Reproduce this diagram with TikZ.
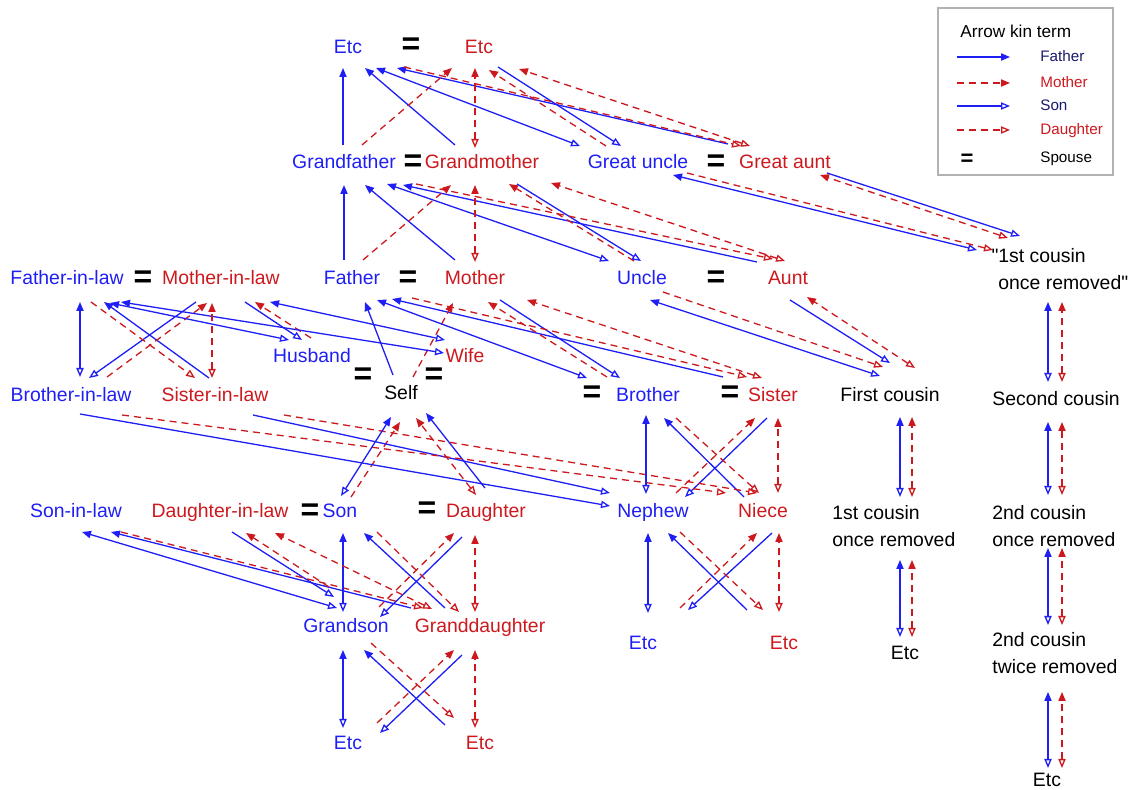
\documentclass[tikz,border=0pt]{standalone}
\usepackage{fontspec}
\setmainfont{Liberation Sans}
\newfontfamily\plainsans{Liberation Sans}
\usetikzlibrary{arrows.meta}
\definecolor{kinblue}{RGB}{30,30,245}
\definecolor{kinred}{RGB}{205,25,30}
\definecolor{kinnavy}{RGB}{25,25,105}

\begin{document}
\begin{tikzpicture}[x=0.5pt, y=-0.5pt,
  term/.style={font=\fontsize{9.7}{13.7}\selectfont, inner sep=0pt, text height=7pt, text depth=2pt},
  mterm/.style={font=\fontsize{9.7}{13.7}\selectfont, inner sep=0pt, align=left, anchor=north west},
  bl/.style={term, text=kinblue},
  rd/.style={term, text=kinred},
  bk/.style={term, text=black},
  eq/.style={font=\fontsize{16}{16}\selectfont\bfseries, inner sep=0pt},
  legtext/.style={font=\fontsize{7.6}{9}\selectfont, inner sep=0pt, text height=5.5pt, text depth=1.6pt, anchor=west},
  legbox/.style={draw=black!30, line width=.6pt},
  tipf/.tip={Triangle[length=4.5pt,width=3.6pt]},
  tipo/.tip={Triangle[open,length=4.5pt,width=3.6pt]},
  bline/.style={draw=kinblue, line width=.65pt},
  rline/.style={draw=kinred, line width=.65pt, dash pattern=on 3.5pt off 2.5pt},
  farr/.style={bline, -tipf},
  marr/.style={rline, -tipf},
  sarr/.style={bline, -tipo},
  darr/.style={rline, -tipo},
  fsarr/.style={bline, tipo-tipf},
  mdarr/.style={rline, tipo-tipf}
]
\useasboundingbox (0,0) rectangle (1136,790);

% generations
\node[bl] (etcA) at (348,49) {Etc};
\node[eq] (eq1) at (411,46) {=};
\node[rd] (etcB) at (479,49) {Etc};
\node[bl] (gfa) at (344,164) {Grandfather};
\node[eq] (eq2) at (413,163) {=};
\node[rd] (gmo) at (482,164) {Grandmother};
\node[bl] (gun) at (638,164) {Great uncle};
\node[eq] (eq3) at (716,163) {=};
\node[rd] (gau) at (785,164) {Great aunt};
\node[bl] (fil) at (67,280) {Father-in-law};
\node[eq] (eq4) at (143,279) {=};
\node[rd] (mil) at (221,280) {Mother-in-law};
\node[bl] (fat) at (352,280) {Father};
\node[eq] (eq5) at (408,279) {=};
\node[rd] (mot) at (475,280) {Mother};
\node[bl] (unc) at (642,280) {Uncle};
\node[eq] (eq6) at (716,279) {=};
\node[rd] (aun) at (788,280) {Aunt};
\node[mterm] (cor1) at (998,248) {\llap{\plainsans"}1st cousin\\once removed{\plainsans"}};
\node[bl] (hus) at (312,358) {Husband};
\node[rd] (wif) at (465,358) {Wife};
\node[eq] (eq7) at (363,376) {=};
\node[eq] (eq8) at (434,376) {=};
\node[bl] (bil) at (71,397) {Brother-in-law};
\node[rd] (sil) at (215,397) {Sister-in-law};
\node[bk] (self) at (401,395) {Self};
\node[eq] (eq9) at (592,394) {=};
\node[bl] (bro) at (648,397) {Brother};
\node[eq] (eq10) at (730,394) {=};
\node[rd] (sis) at (773,397) {Sister};
\node[bk] (fc) at (890,397) {First cousin};
\node[bk] (sc) at (1056,401) {Second cousin};
\node[bl] (sonil) at (76,513) {Son-in-law};
\node[rd] (dil) at (220,513) {Daughter-in-law};
\node[eq] (eq11) at (310,512) {=};
\node[bl] (son) at (340,513) {Son};
\node[eq] (eq12) at (427,510) {=};
\node[rd] (dau) at (486,513) {Daughter};
\node[bl] (nep) at (653,513) {Nephew};
\node[rd] (nie) at (763,513) {Niece};
\node[mterm] (fcr) at (832,505) {1st cousin\\once removed};
\node[mterm] (scr) at (992,505) {2nd cousin\\once removed};
\node[bl] (gso) at (346,628) {Grandson};
\node[rd] (gda) at (480,628) {Granddaughter};
\node[bl] (etcN) at (643,645) {Etc};
\node[rd] (etcI) at (784,645) {Etc};
\node[bk] (etcF) at (905,655) {Etc};
\node[mterm] (sctr) at (992,632) {2nd cousin\\twice removed};
\node[bl] (etcS) at (348,745) {Etc};
\node[rd] (etcD) at (480,745) {Etc};
\node[bk] (etcR) at (1047,782) {Etc};

% father
\foreach \a/\ax/\ay/\b/\bx/\by in {gfa/-1/-19/etcA/-5/19, gmo/-27/-19/etcA/17/19,
  gau/-57/-20/etcA/49/19, fat/-8/-20/gfa/0/21, mot/-20/-20/gfa/21/21,
  aun/-31/-18/gfa/59/21, sil/-6/-19/fil/37/22, self/-8/-20/fat/13/22,
  sis/-50/-20/fat/40/19, dau/-1/-25/self/25/18, nie/-19/-16/bro/16/21,
  etcI/-37/-35/nep/15/20, gda/-69/-20/sonil/35/19, gda/-35/-20/son/24/20,
  etcD/-35/-20/gso/18/22}
  {\draw[farr] ([shift={(\ax,\ay)}]\a.center) -- ([shift={(\bx,\by)}]\b.center);}
% mother
\foreach \a/\ax/\ay/\b/\bx/\by in {gfa/18/-19/etcB/-27/19, gun/-32/-18/etcB/10/21,
  fat/11/-20/gmo/-31/21, unc/-8/-19/gmo/27/20, bil/36/-20/mil/-14/23,
  hus/-1/-20/mil/34/22, self/12/-18/mot/-22/23, bro/-41/-20/mot/13/22,
  son/11/-16/self/-1/27, nep/23/-20/sis/-18/21, etcN/37/-37/nie/-6/20,
  gso/-17/-41/dil/26/20, gso/33/-21/dau/-32/20, etcS/29/-22/gda/-26/22}
  {\draw[marr] ([shift={(\ax,\ay)}]\a.center) -- ([shift={(\bx,\by)}]\b.center);}
% son
\foreach \a/\ax/\ay/\b/\bx/\by in {etcB/19/18/gun/-17/-18, gmo/35/20/unc/-1/-19,
  mil/-25/22/bil/18/-19, mil/24/22/hus/-10/-18, mot/25/20/bro/-28/-19,
  aun/2/20/fc/0/-34, bil/9/17/nep/-43/-7, sil/38/18/nep/-43/-20,
  sis/-6/21/nep/32/-16, nie/9/20/etcN/45/-35, dil/12/19/gso/-12/-31,
  dau/-24/24/gso/34/-11, gda/-18/27/etcS/32/-12}
  {\draw[sarr] ([shift={(\ax,\ay)}]\a.center) -- ([shift={(\bx,\by)}]\b.center);}
% daughter
\foreach \a/\ax/\ay/\b/\bx/\by in {etcA/56/18/gau/-44/-18, gfa/72/20/aun/-15/-21,
  fil/24/22/sil/-20/-19, fat/60/18/sis/-26/-20, unc/21/12/fc/-7/-30,
  bil/51/18/nie/-37/-20, sil/69/18/nie/-6/-20, bro/28/21/nie/-4/-20,
  nep/27/19/etcI/-21/-35, sonil/45/19/gda/-57/-20, son/37/19/gda/-21/-16,
  gso/25/15/etcD/-26/-27}
  {\draw[darr] ([shift={(\ax,\ay)}]\a.center) -- ([shift={(\bx,\by)}]\b.center);}
% son + father
\foreach \a/\ax/\ay/\b/\bx/\by in {gun/-58/-18/etcA/28/19, unc/-33/-19/gfa/43/20,
  bil/9/-20/fil/13/22, hus/-23/-18/fil/43/23, wif/-21/-5/fil/54/22,
  wif/-20/-18/mil/49/22, bro/-61/-19/fat/25/20, fc/-10/-21/unc/8/20,
  son/1/-17/self/-10/22, nep/-7/-19/bro/-2/18, etcN/5/-32/nep/-5/20,
  gso/-9/-20/sonil/6/19, gso/-3/-16/son/3/20, etcS/-5/-17/gso/-3/22}
  {\draw[fsarr] ([shift={(\ax,\ay)}]\a.center) -- ([shift={(\bx,\by)}]\b.center);}
% daughter + mother
\foreach \a/\ax/\ay/\b/\bx/\by in {gmo/-7/-16/etcB/-4/19, gau/-35/-18/etcB/40/20,
  mot/0/-18/gmo/-7/21, aun/-3/-19/gmo/69/19, sil/-3/-19/mil/-9/23,
  sis/-11/-19/mot/52/20, fc/25/-29/aun/19/17, dau/-10/-18/self/15/23,
  nie/15/-20/sis/5/21, etcI/-5/-33/nie/16/20, gda/-48/-19/dil/55/20,
  gda/-5/-16/dau/-11/22, etcD/-5/-17/gda/-5/22}
  {\draw[mdarr] ([shift={(\ax,\ay)}]\a.center) -- ([shift={(\bx,\by)}]\b.center);}

% cousins
\draw[fsarr] ([shift={(-21,2)}]cor1.north west) -- ([shift={(35,11)}]gun.center);
\draw[darr] ([shift={(49,9)}]gun.center) -- ([shift={(-5,2)}]cor1.north west);
\draw[sarr] ([shift={(42,9)}]gau.center) -- ([shift={(22,-12)}]cor1.north west);
\draw[mdarr] ([shift={(10,-10)}]cor1.north west) -- ([shift={(35,11)}]gau.center);
\draw[fsarr] ([shift={(68,-8)}]fcr.north west) -- ([shift={(10,20)}]fc.center);
\draw[mdarr] ([shift={(80,-8)}]fcr.north west) -- ([shift={(22,20)}]fc.center);
\draw[fsarr] ([shift={(-5,-18)}]etcF.center) -- ([shift={(68,55)}]fcr.north west);
\draw[mdarr] ([shift={(7,-18)}]etcF.center) -- ([shift={(80,55)}]fcr.north west);
\draw[fsarr] ([shift={(-8,-19)}]sc.center) -- ([shift={(50,54)}]cor1.north west);
\draw[mdarr] ([shift={(6,-19)}]sc.center) -- ([shift={(64,54)}]cor1.north west);
\draw[fsarr] ([shift={(56,-10)}]scr.north west) -- ([shift={(-8,21)}]sc.center);
\draw[mdarr] ([shift={(70,-10)}]scr.north west) -- ([shift={(6,21)}]sc.center);
\draw[fsarr] ([shift={(56,-7)}]sctr.north west) -- ([shift={(56,43)}]scr.north west);
\draw[mdarr] ([shift={(70,-7)}]sctr.north west) -- ([shift={(70,43)}]scr.north west);
\draw[fsarr] ([shift={(1,-14)}]etcR.center) -- ([shift={(56,60)}]sctr.north west);
\draw[mdarr] ([shift={(15,-14)}]etcR.center) -- ([shift={(70,60)}]sctr.north west);

% legend
\draw[legbox] (938,8) rectangle (1113,175);
\node[legtext, font=\fontsize{8.6}{10}\selectfont, text height=6.2pt, text depth=0pt] (ltit) at (960,31) {Arrow kin term};
\node[legtext, text=kinnavy] (lfa) at (1040,58) {Father};
\node[legtext, text=kinred] (lmo) at (1040,84) {Mother};
\node[legtext, text=kinnavy] (lso) at (1040,107) {Son};
\node[legtext, text=kinred] (lda) at (1040,131) {Daughter};
\node[legtext] (lsp) at (1040,159) {Spouse};
\node[eq, font=\fontsize{11}{11}\selectfont\bfseries] (leq) at (967,160) {=};
\foreach \n/\s in {lfa/farr, lmo/marr, lso/sarr, lda/darr}
  {\draw[\s] ([shift={(-83,-1)}]\n.west) -- ([shift={(-30,-1)}]\n.west);}
\end{tikzpicture}
\end{document}
